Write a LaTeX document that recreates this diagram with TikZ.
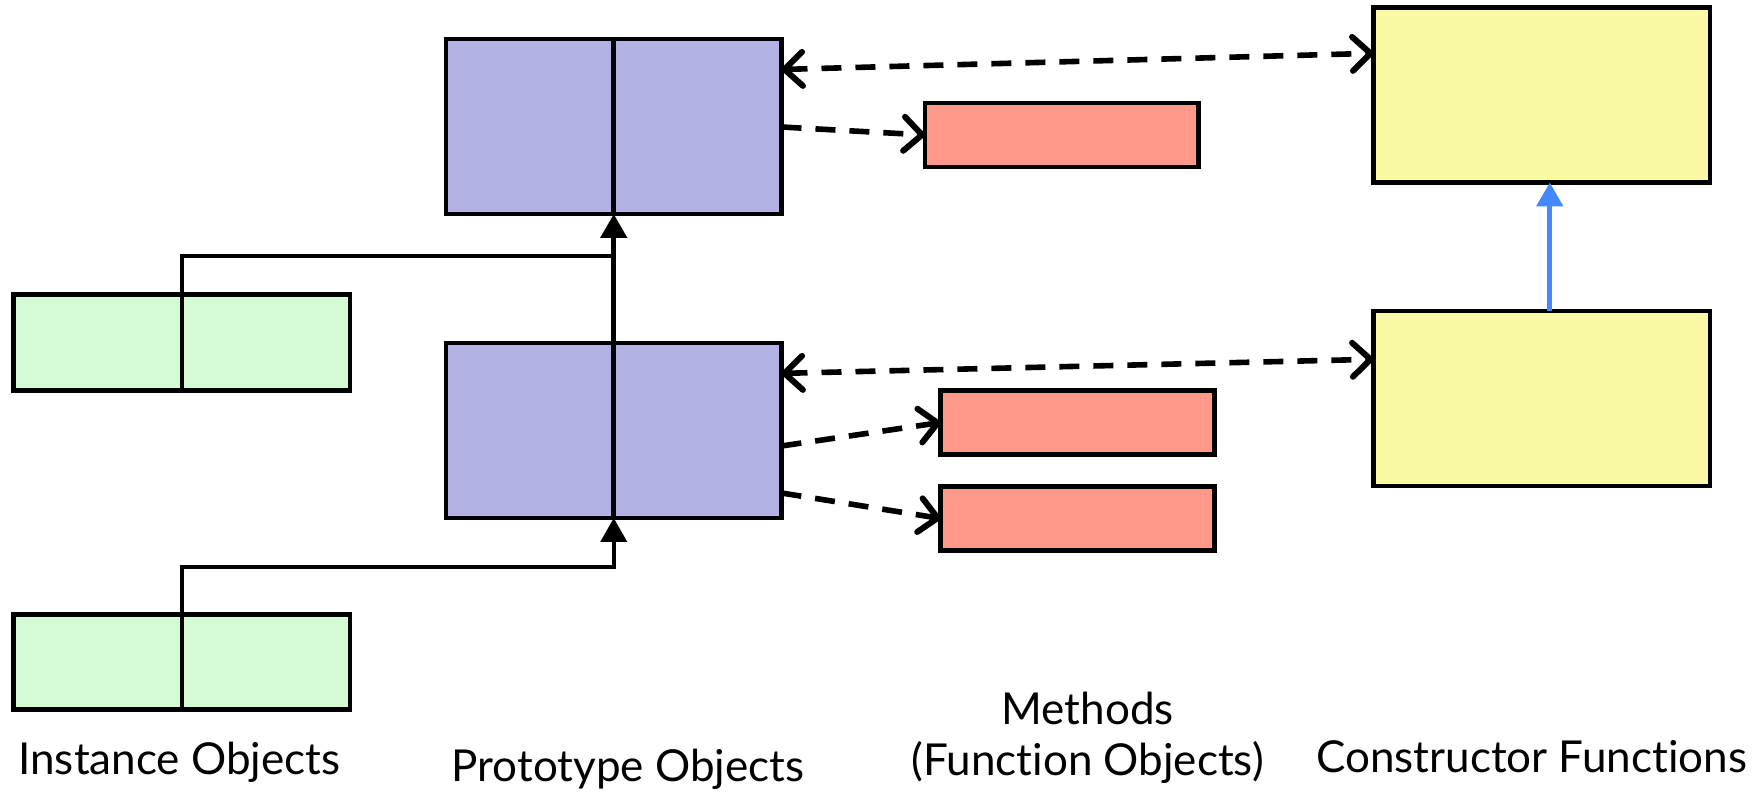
\documentclass[tikz,border=0pt]{standalone}
\usepackage{fontspec}
\setmainfont{Lato}[Ligatures={NoCommon}]
\usetikzlibrary{arrows.meta,calc}
\definecolor{protofill}{HTML}{B2B3E4}
\definecolor{instfill}{HTML}{D5FBD5}
\definecolor{ctorfill}{HTML}{FAF9A6}
\definecolor{methfill}{HTML}{FF9A8B}
\definecolor{linkblue}{HTML}{4488FF}
\tikzset{
  box/.style={draw=black,line width=2.4pt,rectangle,inner sep=0pt,outer sep=0pt},
  protobox/.style={box,fill=protofill,minimum width=167.75pt,minimum height=87.5pt},
  instbox/.style={box,fill=instfill,minimum width=168.25pt,minimum height=47.75pt},
  ctorbox/.style={box,fill=ctorfill,minimum width=168.25pt,minimum height=87.5pt},
  methbox/.style={box,fill=methfill,minimum width=136.75pt,minimum height=32pt},
  divider/.style={line width=2.4pt},
  thinline/.style={line width=2pt},
  inherit/.style={line width=2.4pt,-{Triangle[width=13pt,length=12pt]}},
  barb/.tip={Straight Barb[length=9pt,width=17pt,line width=3pt,round]},
  reflink/.style={line width=2.8pt,dash pattern=on 10pt off 7pt,-barb},
  reflink2/.style={line width=2.8pt,dash pattern=on 10pt off 7pt,barb-barb},
  bluelink/.style={draw=linkblue,line width=2.6pt,-{Triangle[width=13pt,length=12pt]}},
  label/.style={font=\fontsize{22}{26}\selectfont,inner sep=0pt}
}
\begin{document}
\begin{tikzpicture}[x=0.5pt,y=-0.5pt]
\useasboundingbox (0,0) rectangle (1758,795);
% boxes
\node[protobox] (p1) at (613.75,126.5) {};
\node[protobox] (p2) at (613.75,430.5) {};
\node[instbox] (g1) at (181.75,342.5) {};
\node[instbox] (g2) at (181.75,662) {};
\node[ctorbox] (y1) at (1541.75,95) {};
\node[ctorbox] (y2) at (1541.75,398.6) {};
\node[methbox] (m1) at (1061.8,135) {};
\node[methbox] (m2) at (1077.4,422.5) {};
\node[methbox] (m3) at (1077.4,518.5) {};
% dividers
\draw[divider] (p1.south) -- (p1.north);
\draw[divider] (p2.south) -- (p2.north);
\coordinate (j1) at (613.75,255.6);
\coordinate (j2) at (613.75,567);
% inheritance links
\draw[inherit] (p2.north) -- (p1.south);
\draw[thinline] (g1.south) -- (g1.north) |- (j1);
\draw[inherit,line width=2pt] (g2.south) -- (g2.north) |- (j2) -- (p2.south);
\draw[bluelink] ($(y2.north)+(8,0)$) -- ($(y1.south)+(8,0)$);
% dashed reference links
\draw[reflink2] ($(p1.north east)+(0,30.5)$) -- ($(y1.north west)+(0,45.8)$);
\draw[reflink] ($(p1.north east)+(0,88)$) -- (m1.west);
\draw[reflink2] ($(p2.north east)+(0,30.4)$) -- ($(y2.north west)+(0,48.2)$);
\draw[reflink] ($(p2.north east)+(0,103)$) -- (m2.west);
\draw[reflink] ($(p2.north east)+(0,150)$) -- (m3.west);
% labels
\node[label] (l1) at (179.4,762) {Instance Objects};
\node[label] (l2) at (628,769) {Prototype Objects};
\node[label] (l3) at (1087.6,708.6) {Methods};
\node[label] (l4) at (1087.6,762) {(Function Objects)};
\node[label] (l5) at (1531.6,757) {Constructor Functions};
\end{tikzpicture}
\end{document}
